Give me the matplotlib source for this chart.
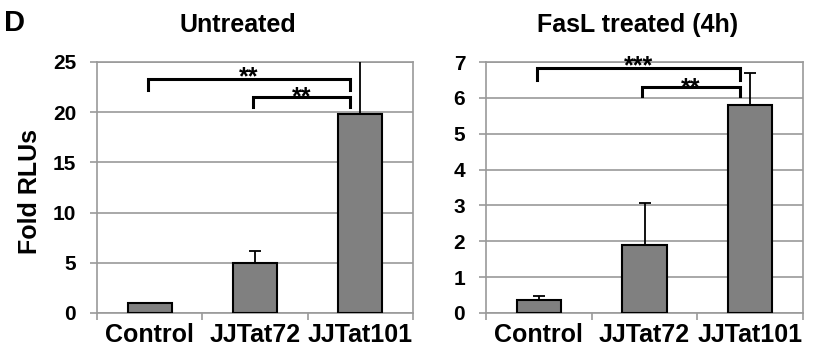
import matplotlib
matplotlib.use("Agg")
import matplotlib.pyplot as plt

plt.rcParams['font.family'] = ['Liberation Sans', 'DejaVu Sans']
plt.rcParams['font.weight'] = 'bold'

categories = ["Control", "JJTat72", "JJTat101"]
untreated_vals = [1.0, 4.95, 19.8]
untreated_err = [0.0, 1.25, 6.0]
fasl_vals = [0.37, 1.9, 5.8]
fasl_err = [0.11, 1.17, 0.9]

untreated_ticks = [0, 5, 10, 15, 20, 25]
fasl_ticks = [0, 1, 2, 3, 4, 5, 6, 7]

# brackets: (start idx, end idx, bar y, drop y, star text, star baseline y)
untreated_brackets = [(0, 2, 23.3, 22.2, "**", 22.8), (1, 2, 21.5, 20.5, "**", 20.8)]
fasl_brackets = [(0, 2, 6.83, 6.5, "***", 6.69), (1, 2, 6.3, 6.05, "**", 6.08)]

W, H = 824, 352
fig = plt.figure(figsize=(W/100, H/100), dpi=100)
ax1 = fig.add_axes([97/W, 1-313/H, 316/W, 251/H])
ax2 = fig.add_axes([486/W, 1-313/H, 317/W, 251/H])

grid_color = "#9a9a9a"

def draw(ax, vals, errs, ticks, brackets):
    x = list(range(len(categories)))
    ax.bar(x, vals, width=0.42, color="#808080", edgecolor="black", linewidth=1.5, zorder=3)
    ax.errorbar(x, vals, yerr=[[0]*len(errs), errs], fmt="none", ecolor="black",
                elinewidth=1.3, capsize=4, capthick=1.3, zorder=4)
    ax.set_xlim(-0.5, len(categories)-0.5)
    ax.set_ylim(ticks[0], ticks[-1])
    ax.set_yticks(ticks)
    ax.set_yticklabels([str(t) for t in ticks], fontsize=15, fontweight='bold')
    ax.set_xticks(x)
    ax.set_xticklabels(categories, fontsize=18, fontweight='bold')
    ax.tick_params(axis='x', length=0, pad=7)
    ax.tick_params(axis='y', length=5, color=grid_color, width=1.2, pad=10)
    ax.set_xticks([-0.5, 0.5, 1.5, 2.5], minor=True)
    ax.tick_params(axis='x', which='minor', length=5, color=grid_color, width=1.2)
    ax.yaxis.grid(True, color=grid_color, linewidth=1.2, zorder=0)
    ax.set_axisbelow(True)
    for s in ax.spines.values():
        s.set_color(grid_color)
        s.set_linewidth(1.2)
    for (i, j, yb, yd, txt, ys) in brackets:
        xs, xe = i - 0.02, j - 0.1
        ax.plot([xs, xs, xe, xe], [yd, yb, yb, yd], color="black", linewidth=2.2,
                clip_on=False, zorder=5, solid_joinstyle='miter')
        ax.text((xs + xe) / 2, ys, txt, ha="center", va="baseline", fontsize=18,
                fontweight='bold', clip_on=False, zorder=6)

draw(ax1, untreated_vals, untreated_err, untreated_ticks, untreated_brackets)
draw(ax2, fasl_vals, fasl_err, fasl_ticks, fasl_brackets)
fig.text(238/W, 1-32/H, "Untreated", fontsize=18, fontweight='bold', ha="center", va="baseline")
fig.text(638/W, 1-32/H, "FasL treated (4h)", fontsize=18, fontweight='bold', ha="center", va="baseline")
fig.text(30/W, 1-192/H, "Fold RLUs", fontsize=18, fontweight='bold', rotation=90,
         ha="center", va="center")
fig.text(4/W, 1-31/H, "D", fontsize=21, fontweight='bold', ha="left", va="baseline")

fig.savefig("out.png", dpi=100)
